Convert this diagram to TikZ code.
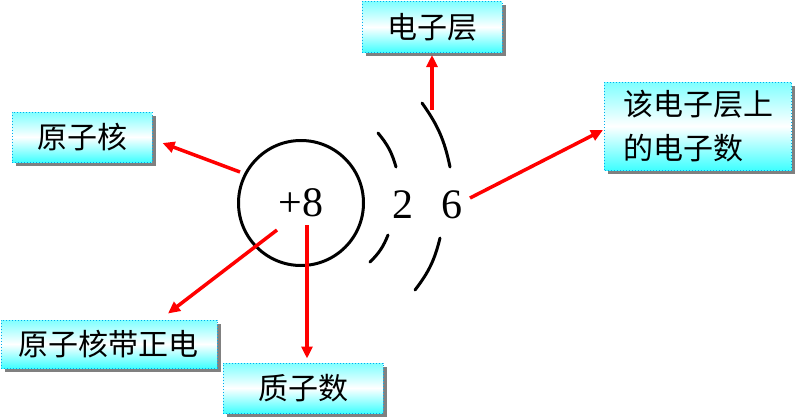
\documentclass[tikz,border=0pt]{standalone}
\usepackage{fontspec}
\setmainfont{Liberation Serif}
\newfontfamily\cjk{Noto Sans CJK SC}
\usetikzlibrary{arrows.meta,shadows}

\begin{document}
\begin{tikzpicture}[x=1pt,y=-1pt,
  tag/.style={draw=cyan,dotted,line width=1pt,
    top color=cyan!50,bottom color=cyan!75,middle color=white,
    drop shadow={shadow xshift=3.5pt,shadow yshift=-3.5pt,fill=black!50,opacity=1},
    font=\cjk\fontsize{30}{44}\selectfont,inner sep=0pt,align=left},
  pointer/.style={red,line width=3.5pt,-{Triangle[length=12pt,width=11pt]}},
  shell/.style={line width=3pt,line cap=round},
  digit/.style={font=\fontsize{42}{42}\selectfont}]
\useasboundingbox (0,0) rectangle (795,418);

% atom
\node[circle,draw,line width=3pt,minimum size=125pt,inner sep=0pt,digit] (core) at (301,203) {+8};
\node[digit] (inner) at (403,205) {2};
\node[digit] (outer) at (452,205) {6};
\draw[shell] (378,133) to[bend left=12] (396,167);
\draw[shell] (388,235) to[bend left=12] (370,262);
\draw[shell] (422,103) to[bend left=12] (450,167);
\draw[shell] (440,238) to[bend left=12] (415,290);

% labels
\node[tag,minimum width=140pt,minimum height=50pt] (nucleus) at (82,137) {原子核};
\node[tag,minimum width=140pt,minimum height=51pt] (layer) at (432,27) {电子层};
\node[tag,minimum width=187pt,minimum height=88pt] (count) at (698,126) {该电子层上\\的电子数};
\node[tag,minimum width=216pt,minimum height=48pt] (charge) at (109,344) {原子核带正电};
\node[tag,minimum width=160pt,minimum height=50pt] (protons) at (303,388) {质子数};

% pointers
\coordinate (nucTail) at (240,172);
\coordinate (layerTail) at (432,110);
\coordinate (countTail) at (470,198);
\coordinate (chargeTail) at (277,230);
\coordinate (protTail) at (307,225);
\draw[pointer] (nucTail) -- ([shift={(10,6)}]nucleus.east);
\draw[pointer] (layerTail) -- ([yshift=-2pt]layer.south);
\draw[pointer] (countTail) -- ([shift={(-1,4)}]count.west);
\draw[pointer] (chargeTail) -- ([shift={(59,-6)}]charge.north);
\draw[pointer] (protTail) -- ([shift={(4,-4)}]protons.north);
\end{tikzpicture}
\end{document}
